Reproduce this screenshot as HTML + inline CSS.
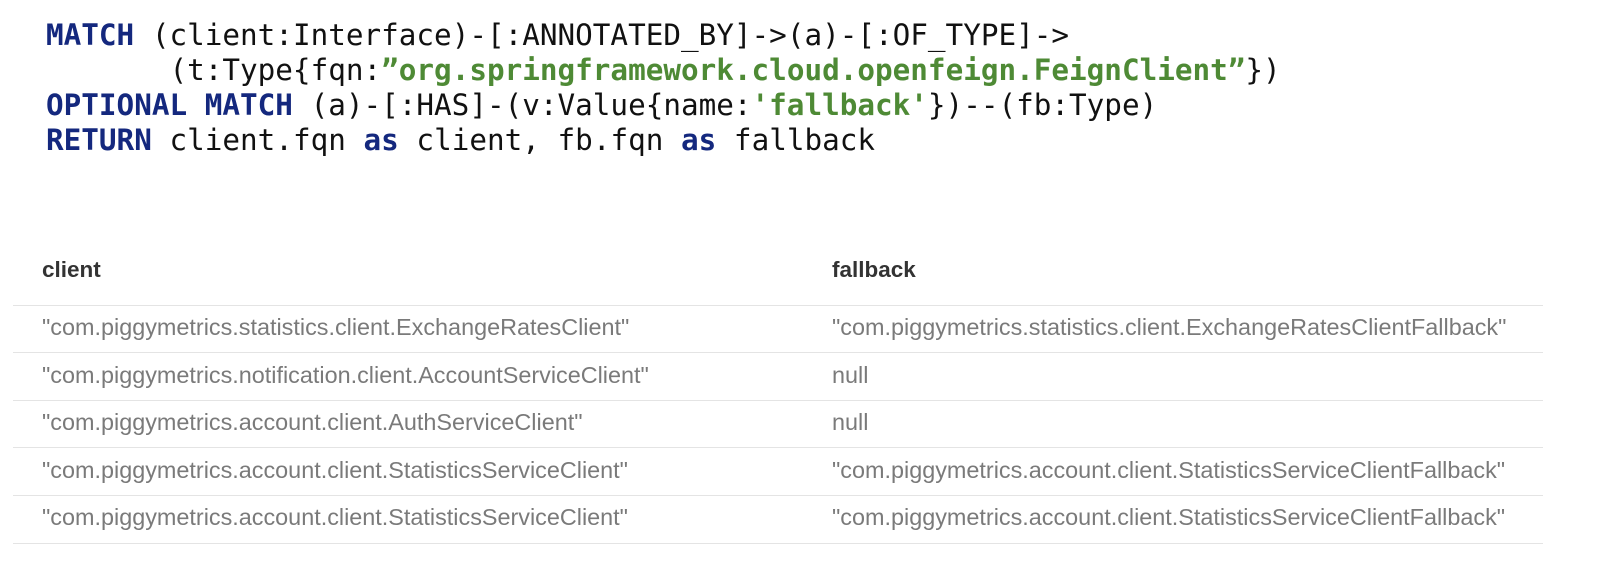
<!DOCTYPE html>
<html><head><meta charset="utf-8"><style>
html,body{margin:0;padding:0;background:#fff;width:1600px;height:582px;overflow:hidden}
pre{position:absolute;left:46px;top:18px;margin:0;font-family:"DejaVu Sans Mono","Liberation Mono",monospace;font-size:29.3px;line-height:35px;color:#111}
.k{color:#14287e;font-weight:bold}
.s{color:#4e8a35;font-weight:bold}
.t{position:absolute;font-family:"Liberation Sans",sans-serif;font-size:23.4px;color:#7a7a7a;white-space:nowrap}
.h{font-weight:bold;color:#333;font-size:22.5px}
.l{position:absolute;left:13px;width:1530px;height:1px;background:#e4e4e4}
</style></head><body>
<pre><span class="k">MATCH</span> (client:Interface)-[:ANNOTATED_BY]->(a)-[:OF_TYPE]->
       (t:Type{fqn:<span class="s">”org.springframework.cloud.openfeign.FeignClient”</span>})
<span class="k">OPTIONAL MATCH</span> (a)-[:HAS]-(v:Value{name:<span class="s">'fallback'</span>})--(fb:Type)
<span class="k">RETURN</span> client.fqn <span class="k">as</span> client, fb.fqn <span class="k">as</span> fallback</pre>
<div class="t h" style="left:42px;top:257px">client</div>
<div class="t h" style="left:832px;top:257px">fallback</div>
<div class="l" style="top:305px"></div>
<div class="t" style="left:42px;top:314px">"com.piggymetrics.statistics.client.ExchangeRatesClient"</div>
<div class="t" style="left:832px;top:314px">"com.piggymetrics.statistics.client.ExchangeRatesClientFallback"</div>
<div class="l" style="top:352px"></div>
<div class="t" style="left:42px;top:362px">"com.piggymetrics.notification.client.AccountServiceClient"</div>
<div class="t" style="left:832px;top:362px">null</div>
<div class="l" style="top:400px"></div>
<div class="t" style="left:42px;top:409px">"com.piggymetrics.account.client.AuthServiceClient"</div>
<div class="t" style="left:832px;top:409px">null</div>
<div class="l" style="top:447px"></div>
<div class="t" style="left:42px;top:457px">"com.piggymetrics.account.client.StatisticsServiceClient"</div>
<div class="t" style="left:832px;top:457px">"com.piggymetrics.account.client.StatisticsServiceClientFallback"</div>
<div class="l" style="top:495px"></div>
<div class="t" style="left:42px;top:504px">"com.piggymetrics.account.client.StatisticsServiceClient"</div>
<div class="t" style="left:832px;top:504px">"com.piggymetrics.account.client.StatisticsServiceClientFallback"</div>
<div class="l" style="top:543px"></div>
</body></html>
